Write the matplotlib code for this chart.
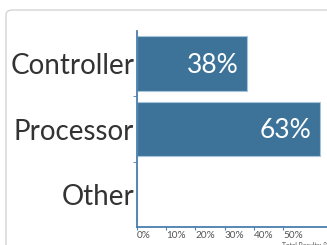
import matplotlib.pyplot as plt
from matplotlib.patches import FancyBboxPatch

categories = ["Controller", "Processor", "Other"]
percents = [37.5, 62.5, 0]
xticks = [0, 10, 20, 30, 40, 50]
total = 8

plt.rcParams['font.family'] = ['Lato', 'DejaVu Sans']

fig = plt.figure(figsize=(3.27, 2.45), dpi=100)

# card frame
card = FancyBboxPatch((6/327, -0.2), 1.2, (245-9)/245 + 0.2 - 0.004,
                      boxstyle="round,pad=0,rounding_size=0.02",
                      transform=fig.transFigure, facecolor="white",
                      edgecolor="#d4d4d4", linewidth=1.0, zorder=-10)
fig.patches.append(card)

ax = fig.add_axes([137/327, 18/245, 1 - 137/327, 196/245])
ax.set_facecolor("none")

y = list(range(len(categories)))
bars = ax.barh(y, percents, height=0.84, color="#3d7399", edgecolor="#a9c4da", linewidth=0.8)
for yi, v in zip(y, percents):
    if v > 0:
        ax.text(v - 2.8, yi + 0.03, f"{int(v + 0.5)}%", ha="right", va="center",
                color="white", fontsize=19)

ax.set_xlim(0, 65)
ax.set_ylim(2.5, -0.5)
ax.set_yticks(y)
ax.set_yticklabels(categories, fontsize=20, color="#333333")
ax.set_yticks([0.5, 1.5], minor=True)
ax.tick_params(axis="y", which="major", length=0, pad=2)
ax.tick_params(axis="y", which="minor", length=3, color="#4a7fae")
ax.set_xticks(xticks)
ax.set_xticklabels([f"{t}%" for t in xticks], fontsize=7.2, color="#555555")
ax.tick_params(axis="x", length=2, color="#4a7fae", pad=1)
for lbl in ax.get_xticklabels():
    lbl.set_horizontalalignment("left")

for s in ["top", "right"]:
    ax.spines[s].set_visible(False)
for s in ["left", "bottom"]:
    ax.spines[s].set_color("#4a7fae")
    ax.spines[s].set_linewidth(1.3)

fig.text(282/327, 0.0, f"Total Results: {total}", fontsize=4.8, color="#555555",
         ha="left", va="center")

fig.savefig("out.png", dpi=100)
